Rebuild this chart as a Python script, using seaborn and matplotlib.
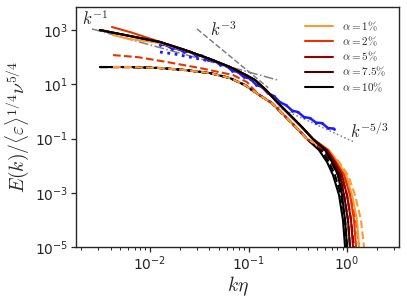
import numpy as np
import pandas as pd
import matplotlib
matplotlib.use("Agg")
import matplotlib.pyplot as plt
import seaborn as sns

sns.set_theme(style="ticks")
plt.rcParams["mathtext.fontset"] = "cm"
plt.rcParams["font.family"] = ["DejaVu Sans"]

# ---------------- data (k*eta, normalized E) ----------------
alphas = ["1", "2", "5", "7.5", "10"]
colors = ["#ff9933", "#e63300", "#990000", "#4c0000", "#000000"]

# upper solid family: shared mid section
k_up_mid = [0.0031, 0.00626, 0.01265, 0.02265, 0.04064, 0.06486, 0.0920,
            0.1164, 0.1507, 0.1995, 0.2637, 0.349, 0.452]
E_up_mid = [1000, 601, 361, 183, 85.1, 43.2, 22.8, 14.3, 6.1, 2.02, 0.73, 0.263, 0.095]
E_tail = [0.0373, 0.0135, 0.00447, 8.15e-4, 9.75e-5, 1.0e-5, 1.0e-6]

k_tail_up = {
    "10":  [0.598, 0.705, 0.810, 0.889, 0.955, 1.000, 1.014],
    "7.5": [0.612, 0.721, 0.849, 0.933, 1.023, 1.072, 1.087],
    "5":   [0.627, 0.755, 0.889, 1.000, 1.098, 1.151, 1.167],
    "2":   [0.641, 0.773, 0.933, 1.072, 1.178, 1.234, 1.250],
    "1":   [0.656, 0.810, 0.977, 1.124, 1.264, 1.324, 1.342],
}
# different starts of the upper curves
k_start_red = [0.00411, 0.00626, 0.01265]
E_start_red = [1290, 843, 365]
k_start_orange = [0.00421, 0.00626, 0.01265, 0.02265]
E_start_orange = [653, 466, 331, 178]

# lower family (solid black + dashed)
k_low_mid = [0.0031, 0.00626, 0.01265, 0.02265, 0.04064, 0.06486, 0.0920,
             0.1247, 0.173, 0.229, 0.303, 0.393]
E_low_mid = [43.2, 43.2, 39.6, 33.4, 25.9, 16.9, 9.3, 4.35, 2.02, 0.73, 0.263, 0.095]
k_tail_low_solid = [0.520, 0.627, 0.721, 0.830, 0.910, 0.955, 0.966]

k_tail_dash = {
    "10":  [0.545, 0.656, 0.755, 0.869, 0.955, 1.000, 1.012],
    "7.5": [0.570, 0.689, 0.810, 0.933, 1.023, 1.072, 1.084],
    "5":   [0.584, 0.721, 0.869, 1.000, 1.098, 1.178, 1.192],
    "2":   [0.612, 0.773, 0.933, 1.098, 1.234, 1.324, 1.339],
    "1":   [0.641, 0.830, 1.023, 1.206, 1.387, 1.488, 1.505],
}
k_dash_red_start = [0.00421, 0.00755, 0.0149, 0.0322, 0.0697, 0.0966]
E_dash_red_start = [119, 100, 66, 39.6, 21.9, 12.0]

# DNS-like blue data
k_blue = [0.01265, 0.01454, 0.01671, 0.01922, 0.02211, 0.02546, 0.02929, 0.03373,
          0.03882, 0.04467, 0.05140, 0.05916, 0.06792, 0.07816, 0.08995, 0.1035,
          0.1191, 0.1371, 0.1578, 0.1816, 0.2089, 0.2404, 0.2767, 0.3184, 0.3656,
          0.4207, 0.4842, 0.5572, 0.6412, 0.7379]
E_blue = [291.7, 279.6, 207.7, 207.7, 154.2, 160.9, 114.6, 114.6, 80.2, 74.9,
          53.3, 49.0, 32.0, 28.2, 18.4, 16.2, 9.75, 7.88, 4.61, 3.67, 2.15, 1.71,
          1.07, 0.942, 0.616, 0.566, 0.386, 0.370, 0.242, 0.232]
k_blue_dot = [0.01265, 0.0179, 0.0255, 0.0361, 0.0479]
E_blue_dot = [154, 130, 100, 78, 66]

# reference slopes
k_ref1 = [0.00258, 0.1995]; E_ref1 = [1096, 14.2]
k_ref3 = [0.0300, 0.1585];  E_ref3 = [1096, 7.43]
k_ref53 = [0.1995, 1.205];  E_ref53 = [1.44, 0.0717]

# ---------------- figure ----------------
fig = plt.figure(figsize=(4.07, 2.98), dpi=100)
ax = fig.add_axes([76/407, 51/298, 323/407, 240/298])
ax.set_xscale("log"); ax.set_yscale("log")

def line(x, y, **kw):
    sns.lineplot(x=x, y=y, ax=ax, estimator=None, sort=False, **kw)

LW = 1.5
col = dict(zip(alphas, colors))

# reference slopes (behind the curves)
line(k_ref1, E_ref1, color="0.5", lw=1.1, linestyle="-.")
line(k_ref53, E_ref53, color="0.5", lw=1.1, linestyle=":")

# dashed family (background ones)
for a in ["10", "7.5", "5"]:
    line(k_low_mid + k_tail_dash[a], E_low_mid + E_tail, color=col[a], lw=LW, linestyle="--")
# lower solid black
line(k_low_mid + k_tail_low_solid, E_low_mid + E_tail, color="black", lw=LW)
# dashed 2% (middle path) and 1% (lower path)
line(k_dash_red_start + k_low_mid[7:] + k_tail_dash["2"],
     E_dash_red_start + E_low_mid[7:] + E_tail, color=col["2"], lw=LW, linestyle="--")
line([0.00421] + k_low_mid[1:] + k_tail_dash["1"],
     [43.2] + E_low_mid[1:] + E_tail, color=col["1"], lw=LW, linestyle="--")

# blue data
line(k_blue, E_blue, color="#1a1aff", lw=1.8, marker="o", markersize=2,
     markeredgewidth=0)
line(k_blue_dot, E_blue_dot, color="#1a1aff", lw=2.0, linestyle=":")

# upper solid family with legend
for a in alphas:
    if a == "2":
        kx = k_start_red + k_up_mid[3:]; ey = E_start_red + E_up_mid[3:]
    elif a == "1":
        kx = k_start_orange + k_up_mid[4:]; ey = E_start_orange + E_up_mid[4:]
    else:
        kx = k_up_mid; ey = E_up_mid
    line(kx + k_tail_up[a], ey + E_tail, color=col[a], lw=LW,
         label=r"$\alpha = %s\%%$" % a)

line(k_ref3, E_ref3, color="0.5", lw=1.1, linestyle="--")

ax.text(0.00204, 2344, r"$k^{-1}$", fontsize=12, ha="left", va="center")
ax.text(0.0407, 912, r"$k^{-3}$", fontsize=12, ha="left", va="center")
ax.text(1.07, 0.174, r"$k^{-5/3}$", fontsize=12, ha="left", va="center")

ax.set_xlim(0.001774, 3.37)
ax.set_ylim(1e-5, 7060)
ax.set_yticks([1e-5, 1e-3, 1e-1, 1e1, 1e3])
ax.yaxis.set_minor_locator(matplotlib.ticker.NullLocator())
ax.tick_params(labelsize=10, pad=2)
ax.tick_params(which="major", length=3.5, width=0.9)
ax.tick_params(which="minor", length=2, width=0.7)
for s in ax.spines.values():
    s.set_linewidth(1.0)
ax.set_xlabel(r"$k\eta$", fontsize=14, labelpad=1)
ax.set_ylabel(r"$E(k)/\langle\varepsilon\rangle^{1/4}\nu^{5/4}$", fontsize=14, labelpad=3)

ax.legend(loc="upper right", frameon=False, fontsize=8, handlelength=2.6,
          handletextpad=0.8, labelspacing=0.18, borderaxespad=0.7)

fig.savefig("out.png", dpi=100)
